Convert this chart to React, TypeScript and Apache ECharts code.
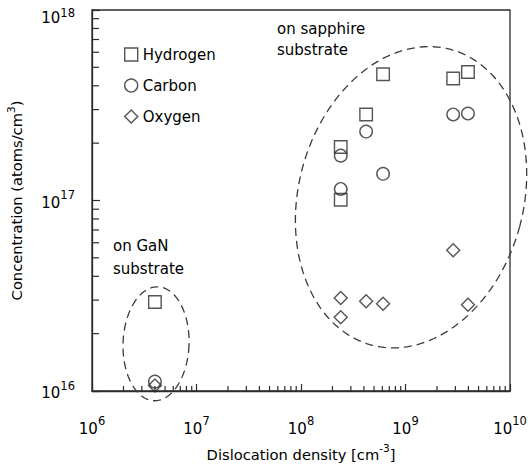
import { useEffect, useRef } from "react";
import * as echarts from "echarts";

// Axis ranges (log scale)
const xRange: [number, number] = [1e6, 1e10];
const yRange: [number, number] = [1e16, 1e18];

// Impurity concentration vs. dislocation density [x, y]
const hydrogen: [number, number][] = [
  [4.0e6, 2.93e16],
  [2.4e8, 1.91e17],
  [2.4e8, 1.01e17],
  [4.2e8, 2.83e17],
  [6.1e8, 4.6e17],
  [2.86e9, 4.37e17],
  [3.96e9, 4.73e17],
];
const carbon: [number, number][] = [
  [4.0e6, 1.12e16],
  [2.4e8, 1.72e17],
  [2.4e8, 1.15e17],
  [4.2e8, 2.3e17],
  [6.1e8, 1.38e17],
  [2.86e9, 2.83e17],
  [3.96e9, 2.86e17],
];
const oxygen: [number, number][] = [
  [4.0e6, 1.07e16],
  [2.4e8, 3.08e16],
  [2.4e8, 2.44e16],
  [4.2e8, 2.96e16],
  [6.1e8, 2.87e16],
  [2.86e9, 5.48e16],
  [3.96e9, 2.84e16],
];

const seriesNames = ["Hydrogen", "Carbon", "Oxygen"];

// Minor tick mantissas and the decades that carry them
const minorMantissas = [2, 3, 4, 5, 6, 7, 8, 9];
const xDecades = [1e6, 1e7, 1e8, 1e9];
const yDecades = [1e16, 1e17];

// Dashed groupings: centre in data units, radii (px) and tilt (deg)
const groupCentres: [number, number][] = [
  [1.13e9, 1.04e17],
  [4.1e6, 1.77e16],
];
const groupShapes = [
  { rx: 112.5, ry: 153, tilt: 15 },
  { rx: 33, ry: 57, tilt: 2 },
];

const FONT = "DejaVu Sans";
const INK = "#2b2b2b";
const TEXT = "#000";

const supRich = {
  b: { fontSize: 15, lineHeight: 19, padding: [4, 0, 0, 0], color: TEXT, fontFamily: FONT },
  s: { fontSize: 11.5, lineHeight: 12, padding: [0, 0, 11, 0], color: TEXT, fontFamily: FONT },
  bt: { fontSize: 15, lineHeight: 19, padding: [16, 0, 0, 0], color: TEXT, fontFamily: FONT },
  st: { fontSize: 11.5, lineHeight: 12, padding: [5, 0, 0, 0], color: TEXT, fontFamily: FONT },
};

const nameRich = {
  n: { fontSize: 14.7, lineHeight: 19, color: TEXT, fontFamily: FONT },
  s: { fontSize: 10.5, lineHeight: 11, padding: [0, 0, 12, 0], color: TEXT, fontFamily: FONT },
};

const expLabel = (v: number) => {
  const e = Math.round(Math.log10(v));
  if (e === 18) return `{bt|10}{st|${e}}`;
  return `{b|10}{s|${e}}`;
};

export default function App() {
  const ref = useRef<HTMLDivElement>(null);

  useEffect(() => {
    if (!ref.current) return;
    const chart = echarts.init(ref.current, null, { renderer: "svg" });

    const xMinor: [number, number][] = [];
    xDecades.forEach((d) => minorMantissas.forEach((m) => xMinor.push([m * d, yRange[0]])));
    const yMinor: [number, number][] = [];
    yDecades.forEach((d) => minorMantissas.forEach((m) => yMinor.push([xRange[0], m * d])));

    const markerStyle = {
      color: "rgba(0,0,0,0)",
      borderColor: INK,
      borderWidth: 1.4,
    };

    const symbols = ["rect", "circle", "diamond"];
    const sizes = [12.5, 12.5, 13];
    const datasets = [hydrogen, carbon, oxygen];

    chart.setOption({
      animation: false,
      backgroundColor: "#fff",
      grid: {
        left: 92,
        right: 18,
        top: 10,
        bottom: 75,
        containLabel: false,
        outerBoundsMode: "none",
        show: true,
        borderColor: INK,
        borderWidth: 1.3,
        backgroundColor: "transparent",
      },
      legend: {
        data: seriesNames.map((n, i) => ({ name: n, icon: symbols[i] })),
        orient: "vertical",
        left: 124,
        top: 47,
        padding: 0,
        itemWidth: 13,
        itemHeight: 13,
        itemGap: 16,
        itemTextGap: 8,
        selectedMode: false,
        textStyle: { fontFamily: FONT, fontSize: 15, color: TEXT },
        itemStyle: { color: "rgba(0,0,0,0)", borderColor: INK, borderWidth: 1.4 },
      },
      xAxis: {
        type: "log",
        logBase: 10,
        min: xRange[0],
        max: xRange[1],
        name: "{n|Dislocation density [cm}{s|-3}{n|]}",
        nameLocation: "middle",
        nameGap: 53,
        nameTextStyle: { rich: nameRich },
        axisLine: { show: true, lineStyle: { color: INK, width: 1.3 } },
        axisTick: { show: true, inside: true, length: 7, lineStyle: { color: INK, width: 1.2 } },
        axisLabel: { margin: 26, formatter: expLabel, rich: supRich },
        splitLine: { show: false },
      },
      yAxis: {
        type: "log",
        logBase: 10,
        min: yRange[0],
        max: yRange[1],
        name: "{n|Concentration (atoms/cm}{s|3}{n|)}",
        nameLocation: "middle",
        nameGap: 66,
        nameTextStyle: { rich: nameRich },
        axisLine: { show: true, lineStyle: { color: INK, width: 1.3 } },
        axisTick: { show: true, inside: true, length: 8, lineStyle: { color: INK, width: 1.2 } },
        axisLabel: { margin: 17, formatter: expLabel, rich: supRich },
        splitLine: { show: false },
      },
      graphic: [
        {
          type: "text",
          left: 277,
          top: 18,
          style: {
            text: "on sapphire\nsubstrate",
            font: `15px "${FONT}"`,
            lineHeight: 21,
            fill: TEXT,
          },
        },
        {
          type: "text",
          left: 113,
          top: 235,
          style: {
            text: "on GaN\nsubstrate",
            font: `15px "${FONT}"`,
            lineHeight: 22.5,
            fill: TEXT,
          },
        },
      ],
      series: [
        {
          name: "groups",
          type: "custom",
          clip: false,
          silent: true,
          z: 1,
          data: groupCentres,
          renderItem: (params: any, api: any) => {
            const c = api.coord([api.value(0), api.value(1)]);
            const g = groupShapes[params.dataIndex];
            const th = (g.tilt * Math.PI) / 180;
            const pts: number[][] = [];
            const n = 160;
            for (let i = 0; i <= n; i++) {
              const t = (i / n) * Math.PI * 2;
              const u = g.rx * Math.cos(t);
              const v = g.ry * Math.sin(t);
              pts.push([c[0] + u * Math.cos(th) - v * Math.sin(th), c[1] + u * Math.sin(th) + v * Math.cos(th)]);
            }
            return {
              type: "polyline",
              shape: { points: pts },
              style: { fill: "none", stroke: "#3a3a3a", lineWidth: 1.3, lineDash: [8, 5] },
            };
          },
        },
        {
          name: "xMinor",
          type: "custom",
          clip: false,
          silent: true,
          data: xMinor,
          renderItem: (_p: any, api: any) => {
            const p = api.coord([api.value(0), api.value(1)]);
            return {
              type: "line",
              shape: { x1: p[0], y1: p[1], x2: p[0], y2: p[1] - 5 },
              style: { stroke: INK, lineWidth: 1.2 },
            };
          },
        },
        {
          name: "yMinor",
          type: "custom",
          clip: false,
          silent: true,
          data: yMinor,
          renderItem: (_p: any, api: any) => {
            const p = api.coord([api.value(0), api.value(1)]);
            return {
              type: "line",
              shape: { x1: p[0], y1: p[1], x2: p[0] + 7, y2: p[1] },
              style: { stroke: INK, lineWidth: 1.2 },
            };
          },
        },
        ...datasets.map((d, i) => ({
          name: seriesNames[i],
          type: "scatter",
          symbol: symbols[i],
          symbolSize: sizes[i],
          data: d,
          z: 3,
          itemStyle: markerStyle,
          emphasis: { disabled: true },
        })),
      ],
    });

    return () => chart.dispose();
  }, []);

  return (
    <div
      ref={ref}
      style={{ position: "absolute", left: 0, top: 0, width: 528, height: 466, background: "#fff" }}
    />
  );
}
